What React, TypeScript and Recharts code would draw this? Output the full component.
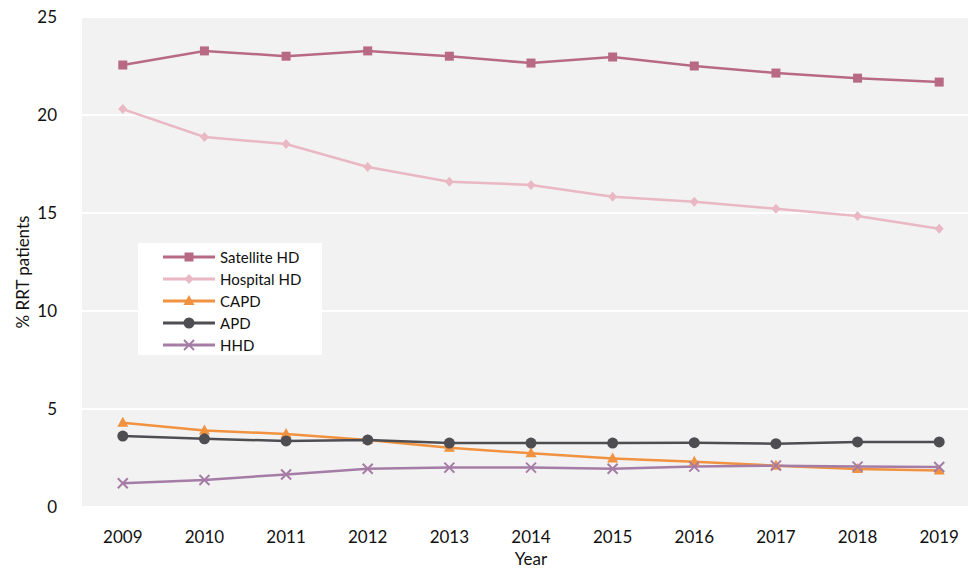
import { LineChart, Line, XAxis, YAxis, CartesianGrid, Label } from "recharts";

const YEARS = ["2009", "2010", "2011", "2012", "2013", "2014", "2015", "2016", "2017", "2018", "2019"];
const SATELLITE_HD = [22.55, 23.27, 23.0, 23.27, 23.0, 22.65, 22.96, 22.5, 22.14, 21.88, 21.68];
const HOSPITAL_HD = [20.3, 18.88, 18.52, 17.35, 16.6, 16.43, 15.83, 15.57, 15.22, 14.85, 14.2];
const CAPD = [4.3, 3.9, 3.73, 3.42, 3.02, 2.74, 2.48, 2.31, 2.11, 1.94, 1.86];
const APD = [3.62, 3.48, 3.37, 3.42, 3.26, 3.26, 3.26, 3.28, 3.23, 3.32, 3.32];
const HHD = [1.21, 1.38, 1.66, 1.95, 2.01, 2.01, 1.95, 2.06, 2.11, 2.06, 2.04];
const Y_TICKS = [0, 5, 10, 15, 20, 25];

type Shape = "square" | "diamond" | "triangle" | "circle" | "cross";

const SERIES: { key: string; name: string; color: string; shape: Shape; values: number[] }[] = [
  { key: "satellite", name: "Satellite HD", color: "#b86a85", shape: "square", values: SATELLITE_HD },
  { key: "hospital", name: "Hospital HD", color: "#e9b8c3", shape: "diamond", values: HOSPITAL_HD },
  { key: "capd", name: "CAPD", color: "#f0923f", shape: "triangle", values: CAPD },
  { key: "apd", name: "APD", color: "#4e4e52", shape: "circle", values: APD },
  { key: "hhd", name: "HHD", color: "#a57ca6", shape: "cross", values: HHD },
];

const data = YEARS.map((year, i) => {
  const row: Record<string, string | number> = { year };
  SERIES.forEach((s) => (row[s.key] = s.values[i]));
  return row;
});

const FONT = "Lato, 'Open Sans', sans-serif";

function Marker({ shape, cx, cy, color }: { shape: Shape; cx: number; cy: number; color: string }) {
  if (shape === "square") return <rect x={cx - 4.5} y={cy - 4.5} width={9} height={9} fill={color} />;
  if (shape === "diamond")
    return <polygon points={`${cx},${cy - 5} ${cx + 4.5},${cy} ${cx},${cy + 5} ${cx - 4.5},${cy}`} fill={color} />;
  if (shape === "triangle")
    return <polygon points={`${cx},${cy - 6} ${cx + 5.5},${cy + 4} ${cx - 5.5},${cy + 4}`} fill={color} />;
  if (shape === "circle") return <circle cx={cx} cy={cy} r={5.5} fill={color} />;
  return (
    <g stroke={color} strokeWidth={2}>
      <line x1={cx - 5} y1={cy - 5} x2={cx + 5} y2={cy + 5} />
      <line x1={cx - 5} y1={cy + 5} x2={cx + 5} y2={cy - 5} />
    </g>
  );
}

function LegendBox() {
  return (
    <div
      style={{
        position: "absolute",
        left: 138,
        top: 243,
        background: "#fff",
        width: 184,
        height: 112,
        paddingTop: 3,
        boxSizing: "border-box",
      }}
    >
      {SERIES.map((s) => (
        <div key={s.key} style={{ display: "flex", alignItems: "center", height: 22 }}>
          <svg width={82} height={22}>
            <line x1={25} y1={11} x2={77} y2={11} stroke={s.color} strokeWidth={3} />
            <Marker shape={s.shape} cx={51} cy={11} color={s.color} />
          </svg>
          <span style={{ fontFamily: FONT, fontSize: 15, color: "#111" }}>{s.name}</span>
        </div>
      ))}
    </div>
  );
}

function YTitle({ viewBox }: any) {
  const x = 22;
  const y = viewBox.y + viewBox.height / 2 + 10;
  return (
    <text
      x={x}
      y={y}
      transform={`rotate(-90 ${x} ${y})`}
      textAnchor="middle"
      dominantBaseline="central"
      fill="#111"
      fontSize={17}
      fontFamily={FONT}
    >
      % RRT patients
    </text>
  );
}

export default function App() {
  return (
    <div style={{ position: "absolute", left: 0, top: 0, width: 968, height: 571, overflow: "hidden", background: "#fff" }}>
      <LineChart width={980} height={571} data={data} margin={{ top: 17, right: 0, left: 0, bottom: 0 }}>
        <CartesianGrid vertical={false} stroke="#ffffff" strokeWidth={2} fill="#f2f2f2" />
        <XAxis
          dataKey="year"
          axisLine={false}
          tickLine={false}
          height={64}
          tickMargin={18}
          padding={{ left: 40.8, right: 40.8 }}
          tick={{ fill: "#111", fontSize: 17, fontFamily: FONT }}
        >
          <Label value="Year" position="insideBottom" offset={6} style={{ fill: "#111", fontSize: 17, fontFamily: FONT }} />
        </XAxis>
        <YAxis
          domain={[0, 25]}
          ticks={Y_TICKS}
          width={82}
          axisLine={false}
          tickLine={false}
          tickMargin={19}
          tick={{ fill: "#111", fontSize: 17, fontFamily: FONT }}
        >
          <Label content={<YTitle />} />
        </YAxis>
        {SERIES.map((s) => (
          <Line
            key={s.key}
            dataKey={s.key}
            name={s.name}
            stroke={s.color}
            strokeWidth={2.5}
            isAnimationActive={false}
            dot={(p: any) => <Marker key={`${s.key}-${p.index}`} shape={s.shape} cx={p.cx} cy={p.cy} color={s.color} />}
            activeDot={false}
          />
        ))}
      </LineChart>
      <LegendBox />
    </div>
  );
}
